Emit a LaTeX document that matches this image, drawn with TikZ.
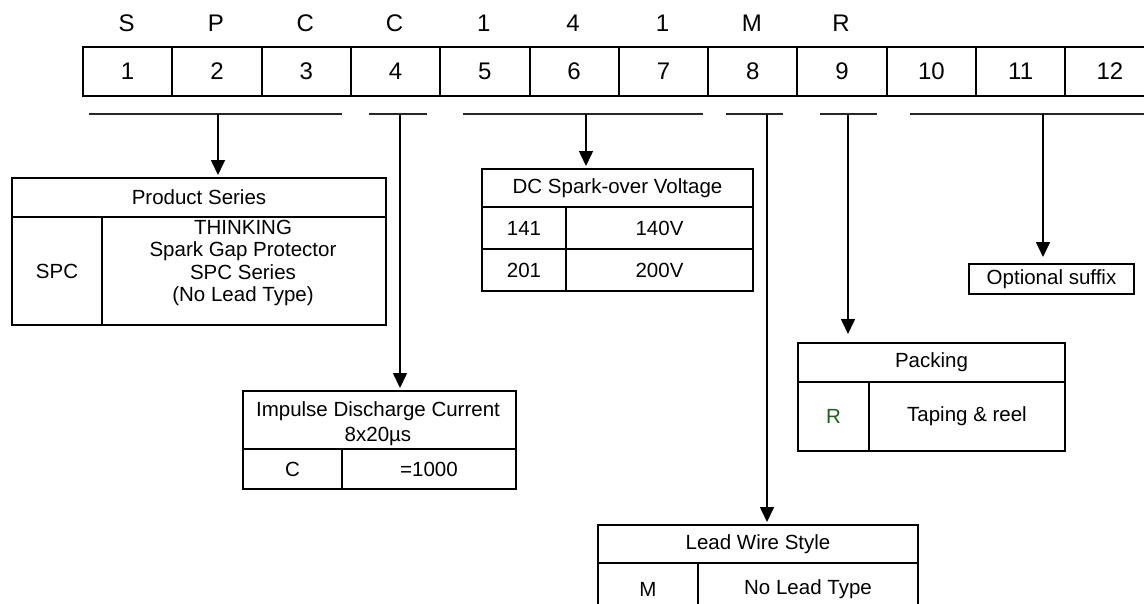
\documentclass[tikz,border=0pt]{standalone}
\usepackage{fontspec}
\setmainfont{Liberation Sans}
\usetikzlibrary{arrows.meta}
\definecolor{rgreen}{HTML}{1F5F1F}
\begin{document}
\begin{tikzpicture}[x=1pt,y=-1pt,
  big/.style={font=\fontsize{24}{28}\selectfont, inner sep=0pt},
  cell/.style={draw, line width=2pt, inner sep=0pt, anchor=north west,
    font=\fontsize{20.5}{22.5}\selectfont, align=center},
  numcell/.style={cell, minimum width=89.3pt, minimum height=49pt,
    font=\fontsize{24}{28}\selectfont},
  boxtext/.style={inner sep=0pt, align=center, font=\fontsize{20.5}{22.5}\selectfont},
  brk/.style={line width=1.8pt, black!85},
  arr/.style={line width=1.6pt, -{Triangle[length=15pt,width=14pt]}, shorten >=2pt}]
\useasboundingbox (0,0) rectangle (1144,603);
\clip (0,0) rectangle (1144,603);

% code table
\foreach \i in {1,...,12}{
  \node[numcell] (n\i) at ({82+(\i-1)*89.3},46) {\i};
}
\foreach \l [count=\i] in {S,P,C,C,1,4,1,M,R}{
  \node[big] (l\i) at ({82+(\i-0.5)*89.3},23) {\l};
}

% brackets
\coordinate (b1a) at (89,114);  \coordinate (b1b) at (342,114);  \coordinate (b1s) at (218,114);
\coordinate (b2a) at (369,114); \coordinate (b2b) at (427,114);  \coordinate (b2s) at (400,114);
\coordinate (b3a) at (463,114); \coordinate (b3b) at (703,114);  \coordinate (b3s) at (586,114);
\coordinate (b4a) at (726,114); \coordinate (b4b) at (783,114);  \coordinate (b4s) at (767,114);
\coordinate (b5a) at (820,114); \coordinate (b5b) at (877,114);  \coordinate (b5s) at (848,114);
\coordinate (b6a) at (910,114); \coordinate (b6b) at (1150,114); \coordinate (b6s) at (1043,114);
\foreach \k in {1,...,6}{ \draw[brk] (b\k a) -- (b\k b); }

% Product Series
\node[cell, minimum width=374pt, minimum height=39pt] (psh) at (11,177) {Product Series};
\node[cell, minimum width=90pt, minimum height=108pt] (psk) at (11,216) {SPC};
\node[cell, minimum width=284pt, minimum height=108pt] (psv) at (101,216) {};
\node[boxtext] (pst) at (243,263) {THINKING\\Spark Gap Protector\\SPC Series\\(No Lead Type)};

% Impulse Discharge Current
\node[cell, minimum width=273pt, minimum height=58pt] (ibh) at (242,390) {};
\node[boxtext, font=\fontsize{20.5}{25}\selectfont] (ibt) at (378,424) {Impulse Discharge Current\\8x20µs};
\node[cell, minimum width=99pt, minimum height=40pt] (ibk) at (242,448) {C};
\node[cell, minimum width=174pt, minimum height=40pt] (ibv) at (341,448) {=1000};

% DC Spark-over Voltage
\node[cell, minimum width=271pt, minimum height=38pt] (dch) at (481,168) {DC Spark-over Voltage};
\node[cell, minimum width=84pt, minimum height=42pt] (dck1) at (481,206) {141};
\node[cell, minimum width=187pt, minimum height=42pt] (dcv1) at (565,206) {140V};
\node[cell, minimum width=84pt, minimum height=42pt] (dck2) at (481,248) {201};
\node[cell, minimum width=187pt, minimum height=42pt] (dcv2) at (565,248) {200V};

% Lead Wire Style
\node[cell, minimum width=320pt, minimum height=38pt] (lwh) at (597,524) {Lead Wire Style};
\node[cell, minimum width=100pt, minimum height=52pt] (lwk) at (597,562) {M};
\node[cell, minimum width=220pt, minimum height=52pt] (lwv) at (697,562) {No Lead Type};

% Packing
\node[cell, minimum width=267pt, minimum height=39pt] (pkh) at (797,342) {Packing};
\node[cell, minimum width=71pt, minimum height=69pt, text=rgreen] (pkk) at (797,381) {R};
\node[cell, minimum width=196pt, minimum height=69pt] (pkv) at (868,381) {Taping \& reel};

% Optional suffix
\node[cell, minimum width=165pt, minimum height=30pt] (os) at (968,263) {Optional suffix};

% arrows
\draw[arr] (b1s) -- (b1s |- psh.north);
\draw[arr] (b2s) -- (b2s |- ibh.north);
\draw[arr] (b3s) -- (b3s |- dch.north);
\draw[arr] (b4s) -- (b4s |- lwh.north);
\draw[arr, shorten >=8pt] (b5s) -- (b5s |- pkh.north);
\draw[arr, shorten >=6pt] (b6s) -- (b6s |- os.north);
\end{tikzpicture}
\end{document}
